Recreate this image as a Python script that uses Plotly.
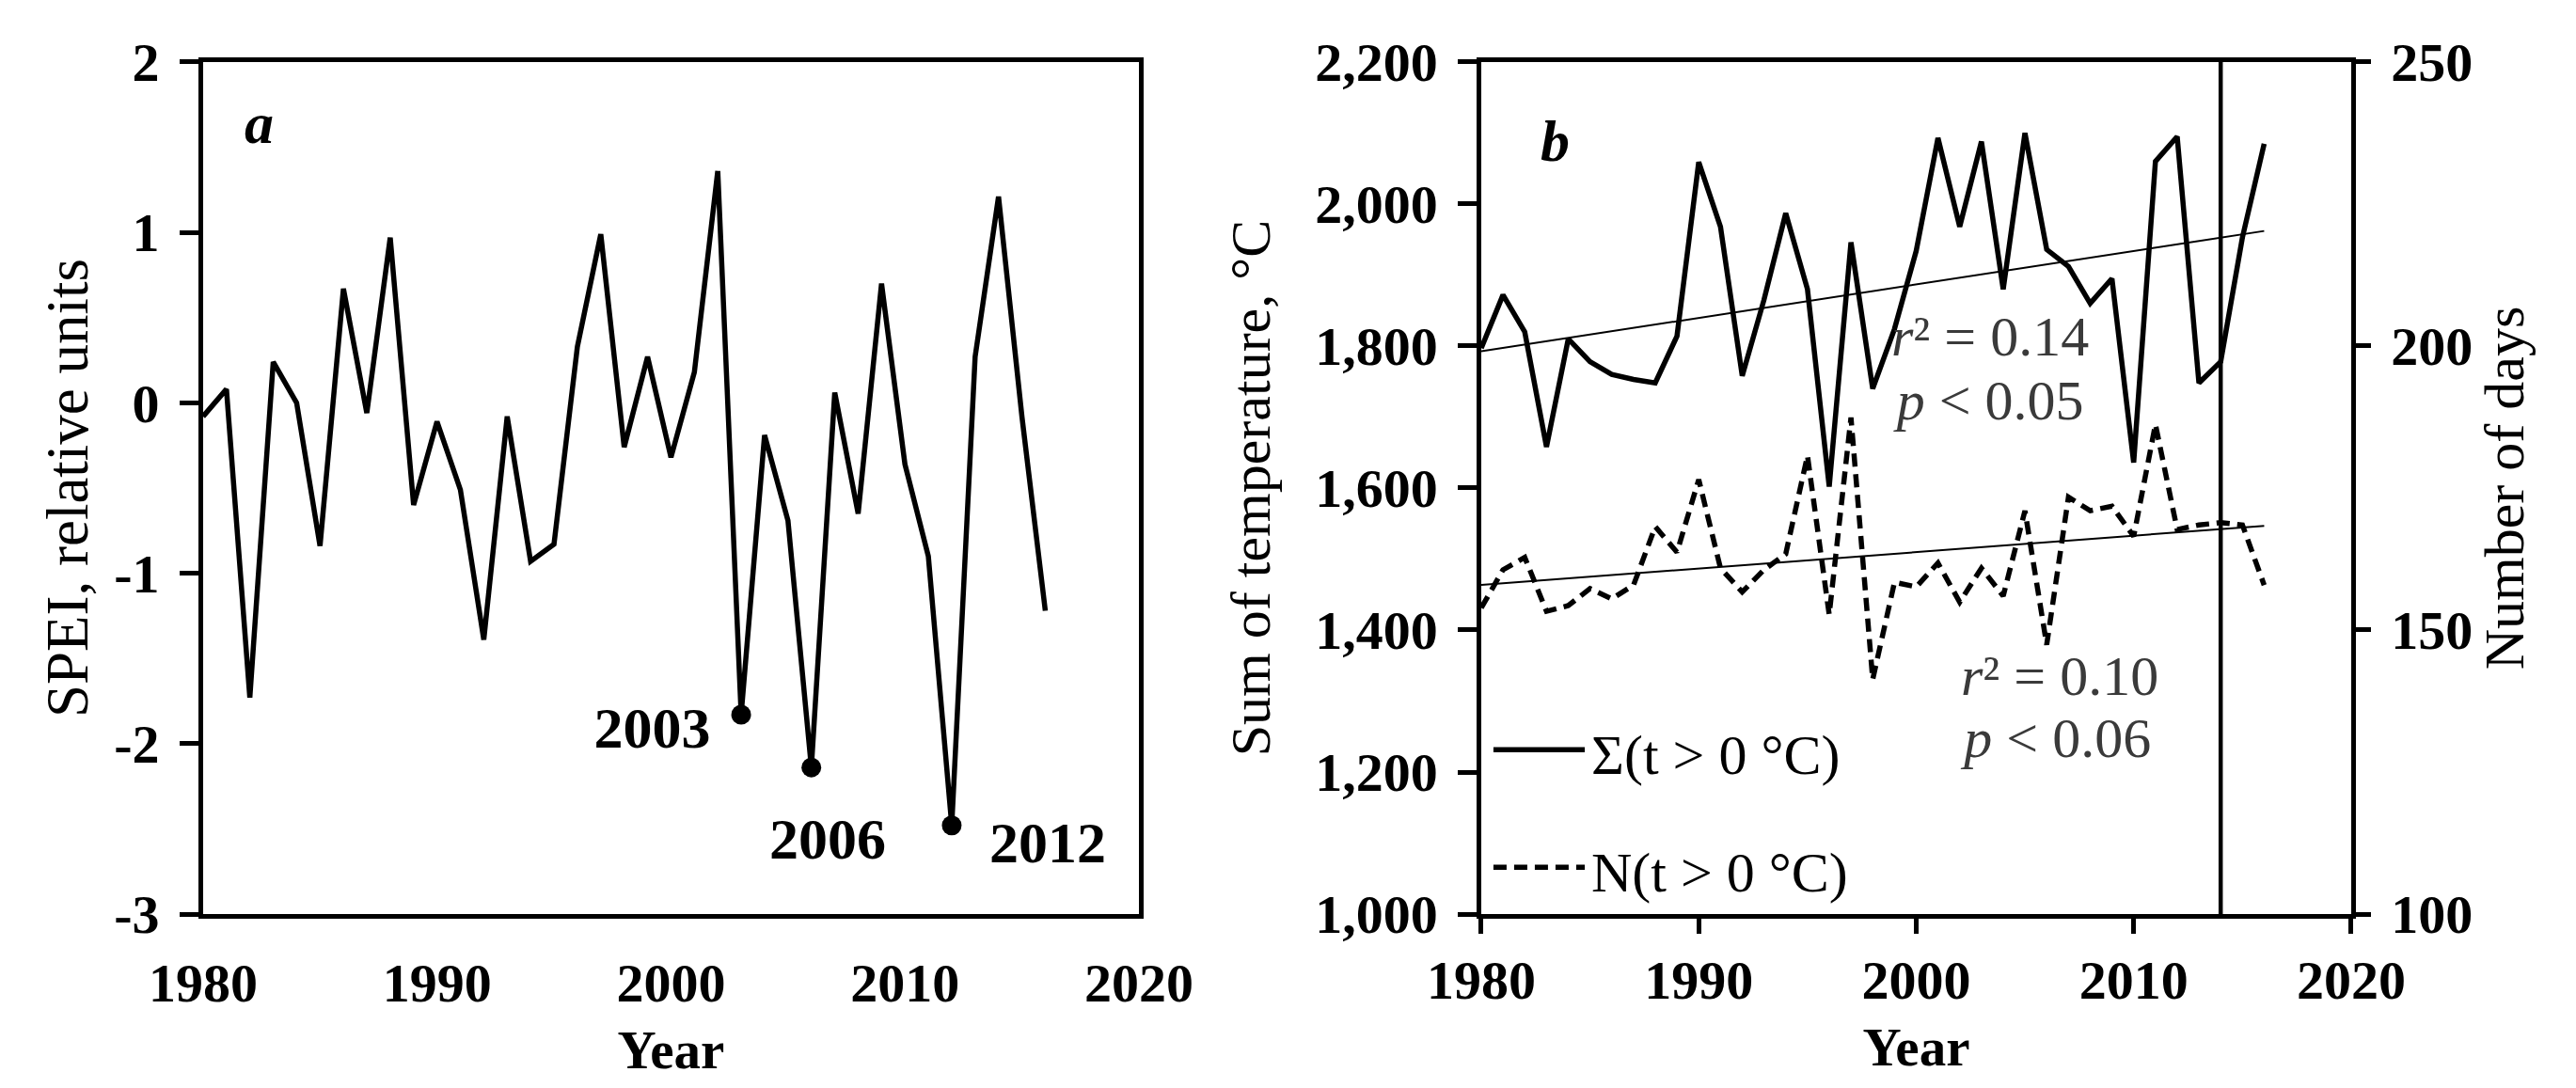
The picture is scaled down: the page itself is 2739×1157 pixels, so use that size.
import numpy as np
import plotly.graph_objects as go

# ---- data ----
years = list(range(1980, 2017))

spei = [-0.08, 0.08, -1.73, 0.24, 0.0, -0.84, 0.67, -0.06, 0.97, -0.60,
        -0.11, -0.51, -1.39, -0.08, -0.93, -0.83, 0.33, 0.99, -0.26, 0.27,
        -0.32, 0.18, 1.36, -1.83, -0.19, -0.69, -2.14, 0.06, -0.65, 0.70,
        -0.36, -0.90, -2.48, 0.27, 1.21, -0.08, -1.22]
spei_ticks = [-3, -2, -1, 0, 1, 2]
spei_ticktext = ["-3", "-2", "-1", "0", "1", "2"]

drought_years = [2003, 2006, 2012]
drought_labels = ["2003", "2006", "2012"]
drought_label_x = [1999.2, 2006.7, 2016.1]
drought_label_y = [-1.94, -2.59, -2.61]

sum_temp = [1797, 1872, 1820, 1658, 1810, 1778, 1760, 1753, 1748, 1814,
            2059, 1968, 1758, 1865, 1987, 1880, 1602, 1946, 1740, 1824,
            1934, 2093, 1968, 2088, 1880, 2100, 1936, 1912, 1860, 1895,
            1636, 2060, 2095, 1748, 1778, 1953, 2085]

n_days = [153.9, 160.6, 162.8, 153.3, 154.3, 157.3, 155.5, 157.9, 168.2, 163.7,
          176.5, 160.9, 156.7, 160.6, 163.4, 180.7, 152.7, 187.4, 141.3, 158.4,
          157.6, 161.8, 154.9, 160.9, 156.0, 171.0, 147.4, 173.4, 171.0, 171.8,
          166.5, 186.2, 167.7, 168.5, 168.9, 168.5, 157.9]

split_year = 2014

stats_sum = ["<i>r</i>² = 0.14", "<i>p</i> < 0.05"]
stats_sum_x = [2003.4, 2003.4]
stats_sum_y = [1807, 1717]
stats_days = ["<i>r</i>² = 0.10", "<i>p</i> < 0.06"]
stats_days_x = [2006.6, 2006.5]
stats_days_y = [1329, 1241]

# linear trends
yr = np.array(years, dtype=float)
k1, b1 = np.polyfit(yr, sum_temp, 1)
k2, b2 = np.polyfit(yr, n_days, 1)
trend_x = [years[0], years[-1]]

FONT = "Liberation Serif"
TICK = dict(family=FONT, size=58, color="black", weight="bold")
TITLE = dict(family=FONT, size=60, color="black")
BOLD_TITLE = dict(family=FONT, size=57, color="black", weight="bold")
LW = 5.5
DASH = "14px,8px"

ydom = [0.1668, 0.9499]
xdom_a = [0.0759, 0.4392]
xdom_b = [0.5721, 0.9098]

fig = go.Figure()

# ---- panel a ----
fig.add_trace(go.Scatter(x=years, y=spei, mode="lines",
                         line=dict(color="black", width=LW),
                         xaxis="x", yaxis="y", showlegend=False))
fig.add_trace(go.Scatter(x=drought_years,
                         y=[spei[years.index(y)] for y in drought_years],
                         mode="markers", marker=dict(color="black", size=21),
                         xaxis="x", yaxis="y", showlegend=False))
fig.add_trace(go.Scatter(x=drought_label_x, y=drought_label_y, mode="text",
                         text=drought_labels,
                         textfont=dict(family=FONT, size=62, color="black", weight="bold"),
                         xaxis="x", yaxis="y", showlegend=False))

# ---- panel b ----
fig.add_trace(go.Scatter(x=years, y=sum_temp, mode="lines",
                         line=dict(color="black", width=LW),
                         xaxis="x2", yaxis="y2", showlegend=False))
fig.add_trace(go.Scatter(x=trend_x, y=[k1 * x + b1 for x in trend_x], mode="lines",
                         line=dict(color="black", width=2),
                         xaxis="x2", yaxis="y2", showlegend=False))
fig.add_trace(go.Scatter(x=years, y=n_days, mode="lines",
                         line=dict(color="black", width=LW, dash=DASH),
                         xaxis="x2", yaxis="y3", showlegend=False))
fig.add_trace(go.Scatter(x=trend_x, y=[k2 * x + b2 for x in trend_x], mode="lines",
                         line=dict(color="black", width=2),
                         xaxis="x2", yaxis="y3", showlegend=False))
stat_font = dict(family=FONT, size=60, color="#3a3a3a")
fig.add_trace(go.Scatter(x=stats_sum_x, y=stats_sum_y, mode="text", text=stats_sum,
                         textfont=stat_font, xaxis="x2", yaxis="y2", showlegend=False))
fig.add_trace(go.Scatter(x=stats_days_x, y=stats_days_y, mode="text", text=stats_days,
                         textfont=stat_font, xaxis="x2", yaxis="y2", showlegend=False))

fig.add_vline(x=split_year, xref="x2", line=dict(color="black", width=4.5))

# legend drawn inside panel b
legend_items = [("Σ(t > 0 °C)", "solid", 0.193), ("N(t > 0 °C)", DASH, 0.055)]
for label, dash, ypos in legend_items:
    fig.add_shape(type="line", xref="x2 domain", yref="y2 domain",
                  x0=0.014, x1=0.119, y0=ypos, y1=ypos,
                  line=dict(color="black", width=LW, dash=dash))
    fig.add_annotation(text=label, xref="x2 domain", yref="y2 domain",
                       x=0.124, y=ypos - 0.006, xanchor="left", yanchor="middle",
                       showarrow=False, font=dict(family=FONT, size=60, color="black"))

# panel letters
fig.add_annotation(text="<b><i>a</i></b>", xref="x domain", yref="y domain",
                   x=0.042, y=0.968, showarrow=False,
                   font=dict(family=FONT, size=62, color="black"))
fig.add_annotation(text="<b><i>b</i></b>", xref="x2 domain", yref="y2 domain",
                   x=0.066, y=0.947, showarrow=False,
                   font=dict(family=FONT, size=62, color="black"))

frame = dict(showline=True, linecolor="black", linewidth=4.5, mirror=True,
             showgrid=False, zeroline=False, automargin=False,
             tickfont=TICK, tickcolor="black", tickwidth=4.5)

fig.update_layout(
    width=2739, height=1157,
    margin=dict(l=0, r=0, t=0, b=0),
    paper_bgcolor="white", plot_bgcolor="white",
    showlegend=False,
    xaxis=dict(frame, domain=xdom_a, anchor="y", range=[1980, 2020], dtick=10,
               ticks="", ticklabelstandoff=19,
               title=dict(text="Year", font=BOLD_TITLE, standoff=20)),
    yaxis=dict(frame, domain=ydom, anchor="x", range=[-3, 2],
               tickvals=spei_ticks, ticktext=spei_ticktext,
               ticks="outside", ticklen=20, ticklabelstandoff=10,
               title=dict(text="SPEI, relative units",
                          font=dict(TITLE, size=63), standoff=9)),
    # horizontal axis crossing at zero in panel a
    xaxis3=dict(overlaying="x", anchor="free",
                position=ydom[0] + (0 - (-3)) / 5 * (ydom[1] - ydom[0]),
                range=[1980, 2020], dtick=10, showticklabels=False,
                showline=True, linecolor="black", linewidth=4.5,
                ticks="outside", ticklen=18, tickwidth=3.5, tickcolor="black",
                showgrid=False, zeroline=False, automargin=False),
    xaxis2=dict(frame, domain=xdom_b, anchor="y2", range=[1980, 2020], dtick=10,
                ticks="outside", ticklen=16,
                title=dict(text="Year", font=BOLD_TITLE, standoff=20)),
    yaxis2=dict(frame, domain=ydom, anchor="x2", range=[1000, 2200], dtick=200,
                tickformat=",d", ticks="outside", ticklen=20, ticklabelstandoff=10,
                title=dict(text="Sum of temperature, °C", font=TITLE, standoff=30)),
    yaxis3=dict(overlaying="y2", side="right", anchor="x2", range=[100, 250], dtick=50,
                showline=True, linecolor="black", linewidth=4.5,
                ticks="outside", ticklen=16, tickwidth=4.5, tickcolor="black",
                ticklabelstandoff=10,
                tickfont=TICK, showgrid=False, zeroline=False, automargin=False,
                title=dict(text="Number of days", font=TITLE, standoff=14)),
)

fig.write_html("out.html")
